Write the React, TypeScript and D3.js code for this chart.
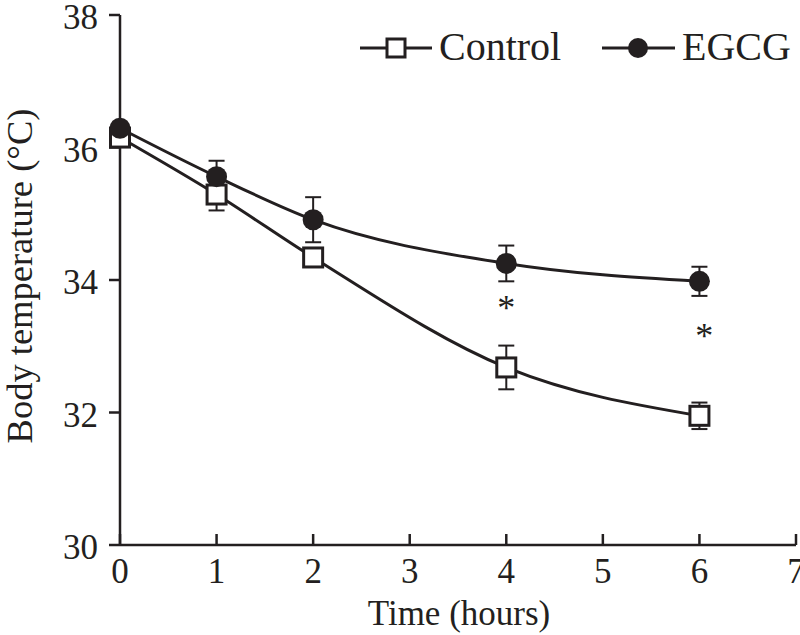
import React from "react";
import * as d3 from "d3";

const times = [0, 1, 2, 4, 6];
const controlMean = [36.15, 35.29, 34.34, 32.68, 31.95];
const controlErr = [0.05, 0.24, 0.04, 0.33, 0.2];
const egcgMean = [36.29, 35.56, 34.91, 34.25, 33.98];
const egcgErr = [0.05, 0.24, 0.34, 0.27, 0.22];
const xTicks = [0, 1, 2, 3, 4, 5, 6, 7];
const yTicks = [30, 32, 34, 36, 38];
const sigTimes = [4, 6.05];
const sigLevels = [33.65, 33.23];

const W = 800, H = 635;
const FONT = "'Liberation Serif', 'Times New Roman', serif";

export default function App() {
  const x = d3.scaleLinear().domain([0, 7]).range([120, 796]);
  const y = d3.scaleLinear().domain([30, 38]).range([545, 15]);
  const line = d3
    .line<number>()
    .x((_, i) => x(times[i]))
    .y((d) => y(d))
    .curve(d3.curveMonotoneX);
  const col = "#231f20";
  const sw = 3;
  const sq = 19;
  const r = 10.5;
  const cap = 8;

  const errBar = (t: number, m: number, e: number, key: string) => (
    <g key={key} stroke={col} strokeWidth={2}>
      <line x1={x(t)} x2={x(t)} y1={y(m - e)} y2={y(m + e)} />
      <line x1={x(t) - cap} x2={x(t) + cap} y1={y(m - e)} y2={y(m - e)} />
      <line x1={x(t) - cap} x2={x(t) + cap} y1={y(m + e)} y2={y(m + e)} />
    </g>
  );

  return (
    <svg width={W} height={H} style={{ position: "absolute", left: 0, top: 0 }}>
      <rect width={W} height={H} fill="#fff" />
      {/* axes */}
      <line x1={x(0)} x2={x(0)} y1={y(38)} y2={y(30)} stroke={col} strokeWidth={2.5} />
      <line x1={x(0)} x2={x(7)} y1={y(30)} y2={y(30)} stroke={col} strokeWidth={2.5} />
      {yTicks.map((t) => (
        <g key={"y" + t}>
          <line x1={x(0) - 11} x2={x(0)} y1={y(t)} y2={y(t)} stroke={col} strokeWidth={2.5} />
          <text x={x(0) - 22} y={y(t) + 14} textAnchor="end" fontFamily={FONT} fontSize={35} fill={col}>
            {t}
          </text>
        </g>
      ))}
      {xTicks.map((t) => (
        <g key={"x" + t}>
          <line x1={x(t)} x2={x(t)} y1={y(30)} y2={y(30) - 11} stroke={col} strokeWidth={2.5} />
          <text x={x(t)} y={583} textAnchor="middle" fontFamily={FONT} fontSize={35} fill={col}>
            {t}
          </text>
        </g>
      ))}
      <text x={(x(0) + x(7)) / 2 + 1} y={625} textAnchor="middle" fontFamily={FONT} fontSize={35} fill={col}>
        Time (hours)
      </text>
      <text
        transform={`translate(32,276) rotate(-90)`}
        textAnchor="middle"
        fontFamily={FONT}
        fontSize={36.5}
        fill={col}
      >
        Body temperature (°C)
      </text>

      {/* error bars */}
      {times.map((t, i) => errBar(t, controlMean[i], controlErr[i], "ec" + t))}
      {times.map((t, i) => errBar(t, egcgMean[i], egcgErr[i], "ee" + t))}

      {/* lines */}
      <path d={line(controlMean) || ""} fill="none" stroke={col} strokeWidth={sw} />
      <path d={line(egcgMean) || ""} fill="none" stroke={col} strokeWidth={sw} />

      {/* markers */}
      {times.map((t, i) => (
        <rect
          key={"c" + t}
          x={x(t) - sq / 2}
          y={y(controlMean[i]) - sq / 2}
          width={sq}
          height={sq}
          fill="#fff"
          stroke={col}
          strokeWidth={sw}
        />
      ))}
      {times.map((t, i) => (
        <circle key={"e" + t} cx={x(t)} cy={y(egcgMean[i])} r={r} fill={col} />
      ))}

      {/* significance */}
      {sigTimes.map((t, i) => (
        <text key={"s" + t} x={x(t)} y={y(sigLevels[i]) + 17} textAnchor="middle" fontFamily={FONT} fontSize={36} fill={col}>
          *
        </text>
      ))}

      {/* legend */}
      <g>
        <line x1={360} x2={432} y1={48} y2={48} stroke={col} strokeWidth={sw} />
        <rect x={396 - 9} y={48 - 9} width={18} height={18} fill="#fff" stroke={col} strokeWidth={sw} />
        <text x={439} y={60} fontFamily={FONT} fontSize={40} fill={col}>
          Control
        </text>
        <line x1={602} x2={675} y1={48} y2={48} stroke={col} strokeWidth={sw} />
        <circle cx={638} cy={48} r={10} fill={col} />
        <text x={682} y={60} fontFamily={FONT} fontSize={40} fill={col}>
          EGCG
        </text>
      </g>
    </svg>
  );
}
